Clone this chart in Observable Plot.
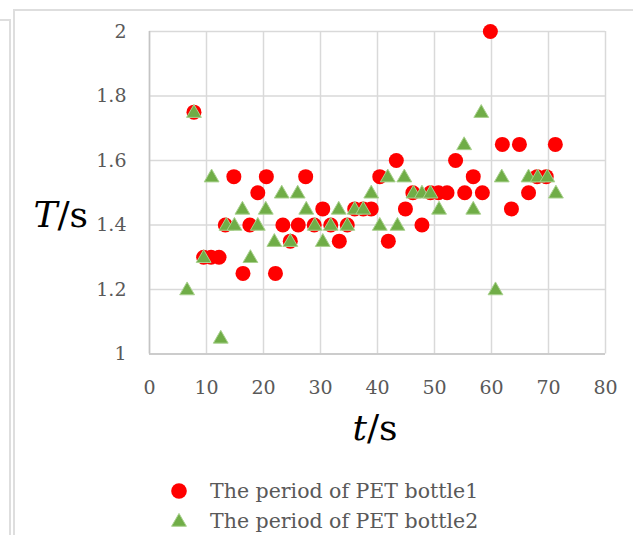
<!DOCTYPE html>
<html>
<head>
<meta charset="utf-8">
<script src="https://cdn.jsdelivr.net/npm/d3@7"></script>
<script src="https://cdn.jsdelivr.net/npm/@observablehq/plot@0.6"></script>
<style>
  html, body { margin: 0; padding: 0; background: #fff; }
  #wrap { position: relative; width: 633px; height: 535px; overflow: hidden; background: #fff; }
  #panelA { position: absolute; left: 0; top: 19px; width: 9px; height: 600px; border-top: 2px solid #dedede; border-right: 2px solid #dedede; }
  #panelB { position: absolute; left: 13px; top: 9px; width: 640px; height: 600px; border-top: 2px solid #dedede; border-left: 2px solid #dedede; }
  #chart { position: absolute; left: 0; top: 0; }
  #legend { position: absolute; left: 0; top: 472px; font-family: "DejaVu Serif", serif; font-size: 20.5px; color: #595959; }
  .row { position: absolute; left: 168px; white-space: nowrap; height: 28px; display: flex; align-items: center; }
  .row svg { margin-right: 20px; }
</style>
</head>
<body>
<div id="wrap">
  <div id="panelA"></div>
  <div id="panelB"></div>
  <div id="chart"></div>
  <div id="legend"></div>
</div>
<script>
// Bottle 1 (red circles): time t (s) and period T (s)
const t1 = [7.8, 9.5, 10.8, 12.2, 13.3, 14.8, 16.4, 17.6, 19.0, 20.5, 22.1, 23.4, 24.7, 26.1, 27.4, 28.9, 30.4, 31.8, 33.3, 34.7, 36.0, 37.5, 38.9, 40.4, 41.9, 43.3, 44.9, 46.2, 47.8, 49.3, 50.7, 52.2, 53.7, 55.3, 56.8, 58.4, 59.8, 61.9, 63.5, 64.9, 66.5, 68.0, 69.6, 71.2];
const T1 = [1.75, 1.30, 1.30, 1.30, 1.40, 1.55, 1.25, 1.40, 1.50, 1.55, 1.25, 1.40, 1.35, 1.40, 1.55, 1.40, 1.45, 1.40, 1.35, 1.40, 1.45, 1.45, 1.45, 1.55, 1.35, 1.60, 1.45, 1.50, 1.40, 1.50, 1.50, 1.50, 1.60, 1.50, 1.55, 1.50, 2.00, 1.65, 1.45, 1.65, 1.50, 1.55, 1.55, 1.65];
// Bottle 2 (green triangles)
const t2 = [6.6, 7.8, 9.5, 10.9, 12.5, 13.5, 14.9, 16.3, 17.7, 19.0, 20.4, 21.9, 23.2, 24.7, 26.0, 27.5, 29.0, 30.4, 31.8, 33.2, 34.7, 36.0, 37.5, 38.9, 40.4, 41.8, 43.5, 44.7, 46.3, 47.8, 49.3, 50.8, 55.2, 56.8, 58.2, 60.7, 61.8, 66.5, 68.1, 69.8, 71.3];
const T2 = [1.20, 1.75, 1.30, 1.55, 1.05, 1.40, 1.40, 1.45, 1.30, 1.40, 1.45, 1.35, 1.50, 1.35, 1.50, 1.45, 1.40, 1.35, 1.40, 1.45, 1.40, 1.45, 1.45, 1.50, 1.40, 1.55, 1.40, 1.55, 1.50, 1.50, 1.50, 1.45, 1.65, 1.45, 1.75, 1.20, 1.55, 1.55, 1.55, 1.55, 1.50];

const xTicks = [0, 10, 20, 30, 40, 50, 60, 70, 80];
const yTicks = [1, 1.2, 1.4, 1.6, 1.8, 2];
const seriesNames = ["The period of PET bottle1", "The period of PET bottle2"];
const xLabel = ["t", "/s"];
const yLabel = ["T", "/s"];

const bottle1 = t1.map((t, i) => ({t, T: T1[i]}));
const bottle2 = t2.map((t, i) => ({t, T: T2[i]}));

const H = 460;
const chart = Plot.plot({
  width: 633,
  height: H,
  marginLeft: 149,
  marginRight: 28,
  marginTop: 31,
  marginBottom: H - 353.5,
  x: {domain: [0, 80]},
  y: {domain: [1, 2]},
  style: {fontFamily: "DejaVu Serif, serif", fontSize: "19px", color: "#595959", background: "transparent", overflow: "visible"},
  marks: [
    Plot.gridX(xTicks, {stroke: "#d9d9d9", strokeOpacity: 1, strokeWidth: 1.5}),
    Plot.gridY(yTicks, {stroke: "#d9d9d9", strokeOpacity: 1, strokeWidth: 1.5}),
    Plot.ruleX([0], {stroke: "#c4c4c4", strokeWidth: 1.5}),
    Plot.ruleY([1], {stroke: "#c4c4c4", strokeWidth: 1.5}),
    Plot.axisX(xTicks, {tickSize: 0, tickPadding: 26, label: null, fill: "#595959"}),
    Plot.axisY(yTicks, {tickSize: 0, tickPadding: 23, label: null, fill: "#595959", tickFormat: d => String(+d.toFixed(1))}),
    Plot.dot(bottle1, {x: "t", y: "T", r: 7.5, fill: "#ff0000"}),
    Plot.dot(bottle2, {x: "t", y: "T", symbol: "triangle", r: 5.5, dy: 1, fill: "#70ad47", stroke: "#a9d18e", strokeWidth: 1})
  ]
});

const svg = d3.select(chart);
// y-axis label: italic T + "/s"
const yl = svg.append("text")
  .attr("x", 88).attr("y", 227)
  .attr("text-anchor", "end")
  .attr("font-family", "DejaVu Serif, serif")
  .attr("font-size", 36)
  .attr("fill", "#000");
yl.append("tspan").attr("font-style", "italic").text(yLabel[0]);
yl.append("tspan").text(yLabel[1]);
// x-axis label
const xl = svg.append("text")
  .attr("x", 375).attr("y", 440)
  .attr("text-anchor", "middle")
  .attr("font-family", "DejaVu Serif, serif")
  .attr("font-size", 36)
  .attr("fill", "#000");
xl.append("tspan").attr("font-style", "italic").text(xLabel[0]);
xl.append("tspan").text(xLabel[1]);

document.getElementById("chart").appendChild(chart);

// Legend
const legend = d3.select("#legend");
const r1 = legend.append("div").attr("class", "row").style("top", "5px");
const s1 = r1.append("svg").attr("width", 22).attr("height", 22);
s1.append("circle").attr("cx", 11).attr("cy", 11).attr("r", 7.8).attr("fill", "#ff0000");
r1.append("span").text(seriesNames[0]);
const r2 = legend.append("div").attr("class", "row").style("top", "35px");
const s2 = r2.append("svg").attr("width", 22).attr("height", 22);
s2.append("path").attr("transform", "translate(11,12)")
  .attr("d", d3.symbol(d3.symbolTriangle, Math.PI * 5.5 * 5.5)())
  .attr("fill", "#70ad47").attr("stroke", "#a9d18e").attr("stroke-width", 1);
r2.append("span").text(seriesNames[1]);
</script>
</body>
</html>
